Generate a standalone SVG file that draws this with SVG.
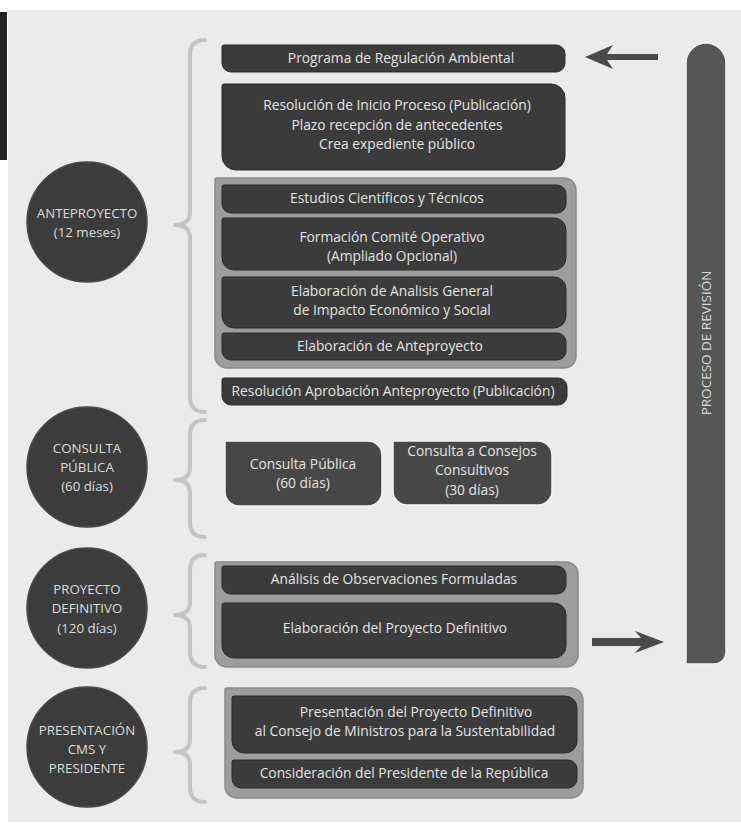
<svg xmlns="http://www.w3.org/2000/svg" width="741" height="831" viewBox="0 0 741 831">
<style>
.bx{fill:#3b3b3b;stroke:#2a2a2a;stroke-width:1}
.cb{fill:#474747;stroke:#f4f4f4;stroke-width:1.5}
.ct{fill:#9d9d9d;stroke:#8a8a8a;stroke-width:1.5}
.ci{fill:#3c3c3c;stroke:#4a4a4a;stroke-width:1.5}
.t{font-family:"Open Sans","Noto Sans",sans-serif;font-size:13.8px;fill:#e4e4e4;text-anchor:middle}
.tc{font-family:"Open Sans","Noto Sans",sans-serif;font-size:13.3px;fill:#dcdcdc;text-anchor:middle}
.br{fill:none;stroke:#c4c4c4;stroke-width:4;stroke-linecap:round;stroke-linejoin:round}
.ar{fill:#4a4a4a}
</style>
<rect x="0" y="0" width="741" height="831" fill="#ffffff"/>
<rect x="8" y="10" width="733" height="812" fill="#ebebeb"/>
<rect x="0" y="12" width="7" height="148" fill="#222222"/>

<g id="connectors">
<path class="br" d="M205,40 C195,40 190,45 190,55 L190,212 C190,221 185,225 175,225 C185,225 190,229 190,238 L190,397 C190,407 195,412 205,412"/>
<path class="br" d="M205,420 C195,420 190,425 190,435 L190,467 C190,476 185,480 175,480 C185,480 190,484 190,493 L190,522 C190,532 195,537 205,537"/>
<path class="br" d="M205,555 C195,555 190,560 190,570 L190,602 C190,611 185,615 175,615 C185,615 190,619 190,628 L190,652 C190,662 195,667 205,667"/>
<path class="br" d="M205,688 C195,688 190,693 190,703 L190,739 C190,748 185,752 175,752 C185,752 190,756 190,765 L190,787 C190,797 195,802 205,802"/>
<polygon class="ar" points="585,57 613,45 607,54 658,54 658,60 607,60 613,69"/>
<polygon class="ar" points="664,642 635,631 641,638 592,638 592,646 641,646 635,653"/>
</g>

<g id="c-anteproyecto">
<circle class="ci" cx="87" cy="222" r="60"/>
<text class="tc" x="87" y="218">ANTEPROYECTO</text>
<text class="tc" x="87" y="237">(12 meses)</text>
</g>
<g id="c-consulta">
<circle class="ci" cx="87" cy="467" r="60"/>
<text class="tc" x="87" y="453">CONSULTA</text>
<text class="tc" x="87" y="472">PÚBLICA</text>
<text class="tc" x="87" y="491">(60 días)</text>
</g>
<g id="c-proyecto">
<circle class="ci" cx="87" cy="608" r="60"/>
<text class="tc" x="87" y="594">PROYECTO</text>
<text class="tc" x="87" y="613">DEFINITIVO</text>
<text class="tc" x="87" y="633">(120 días)</text>
</g>
<g id="c-presentacion">
<circle class="ci" cx="87" cy="747" r="60"/>
<text class="tc" x="87" y="735">PRESENTACIÓN</text>
<text class="tc" x="87" y="754">CMS Y</text>
<text class="tc" x="87" y="773">PRESIDENTE</text>
</g>

<g id="n-programa">
<path class="bx" d="M224,45 H556 A9,9 0 0 1 565,54 V63 A9,9 0 0 1 556,72 H231 A9,9 0 0 1 222,63 V47 A2,2 0 0 1 224,45 Z"/>
<text class="t" x="401" y="63">Programa de Regulación Ambiental</text>
</g>
<g id="n-resolucion-inicio">
<path class="bx" d="M224,84 H551 A14,14 0 0 1 565,98 V156 A14,14 0 0 1 551,170 H236 A14,14 0 0 1 222,156 V86 A2,2 0 0 1 224,84 Z"/>
<text class="t" x="397" y="110">Resolución de Inicio Proceso (Publicación)</text>
<text class="t" x="397" y="130">Plazo recepción de antecedentes</text>
<text class="t" x="397" y="149">Crea expediente público</text>
</g>
<g id="n-grupo-anteproyecto">
<path class="ct" d="M217,178 H564 A12,12 0 0 1 576,190 V356 A12,12 0 0 1 564,368 H227 A12,12 0 0 1 215,356 V180 A2,2 0 0 1 217,178 Z"/>
</g>
<g id="n-estudios">
<path class="bx" d="M224,185 H557 A9,9 0 0 1 566,194 V204 A9,9 0 0 1 557,213 H231 A9,9 0 0 1 222,204 V187 A2,2 0 0 1 224,185 Z"/>
<text class="t" x="387" y="203">Estudios Científicos y Técnicos</text>
</g>
<g id="n-comite">
<path class="bx" d="M224,218 H554 A12,12 0 0 1 566,230 V258 A12,12 0 0 1 554,270 H234 A12,12 0 0 1 222,258 V220 A2,2 0 0 1 224,218 Z"/>
<text class="t" x="392" y="242">Formación Comité Operativo</text>
<text class="t" x="392" y="261">(Ampliado Opcional)</text>
</g>
<g id="n-analisis">
<path class="bx" d="M224,277 H554 A12,12 0 0 1 566,289 V316 A12,12 0 0 1 554,328 H234 A12,12 0 0 1 222,316 V279 A2,2 0 0 1 224,277 Z"/>
<text class="t" x="392" y="296">Elaboración de Analisis General</text>
<text class="t" x="392" y="315">de Impacto Económico y Social</text>
</g>
<g id="n-elab-anteproyecto">
<path class="bx" d="M224,333 H557 A9,9 0 0 1 566,342 V351 A9,9 0 0 1 557,360 H231 A9,9 0 0 1 222,351 V335 A2,2 0 0 1 224,333 Z"/>
<text class="t" x="390" y="351">Elaboración de Anteproyecto</text>
</g>
<g id="n-resolucion-aprobacion">
<path class="bx" d="M224,378 H558 A9,9 0 0 1 567,387 V396 A9,9 0 0 1 558,405 H231 A9,9 0 0 1 222,396 V380 A2,2 0 0 1 224,378 Z"/>
<text class="t" x="393" y="396">Resolución Aprobación Anteproyecto (Publicación)</text>
</g>
<g id="n-consulta-publica">
<path class="cb" d="M227,441 H368 A14,14 0 0 1 382,455 V492 A14,14 0 0 1 368,506 H239 A14,14 0 0 1 225,492 V443 A2,2 0 0 1 227,441 Z"/>
<text class="t" x="303" y="469">Consulta Pública</text>
<text class="t" x="303" y="488">(60 días)</text>
</g>
<g id="n-consulta-consejos">
<path class="cb" d="M395,441 H538 A14,14 0 0 1 552,455 V491 A14,14 0 0 1 538,505 H407 A14,14 0 0 1 393,491 V443 A2,2 0 0 1 395,441 Z"/>
<text class="t" x="472" y="456">Consulta a Consejos</text>
<text class="t" x="472" y="475">Consultivos</text>
<text class="t" x="472" y="495">(30 días)</text>
</g>
<g id="n-grupo-proyecto">
<path class="ct" d="M217,562 H566 A12,12 0 0 1 578,574 V655 A12,12 0 0 1 566,667 H227 A12,12 0 0 1 215,655 V564 A2,2 0 0 1 217,562 Z"/>
</g>
<g id="n-observaciones">
<path class="bx" d="M224,566 H557 A9,9 0 0 1 566,575 V585 A9,9 0 0 1 557,594 H231 A9,9 0 0 1 222,585 V568 A2,2 0 0 1 224,566 Z"/>
<text class="t" x="394" y="584">Análisis de Observaciones Formuladas</text>
</g>
<g id="n-elab-proyecto">
<path class="bx" d="M224,603 H554 A12,12 0 0 1 566,615 V646 A12,12 0 0 1 554,658 H234 A12,12 0 0 1 222,646 V605 A2,2 0 0 1 224,603 Z"/>
<text class="t" x="395" y="633">Elaboración del Proyecto Definitivo</text>
</g>
<g id="n-grupo-presentacion">
<path class="ct" d="M227,688 H571 A12,12 0 0 1 583,700 V786 A12,12 0 0 1 571,798 H237 A12,12 0 0 1 225,786 V690 A2,2 0 0 1 227,688 Z"/>
</g>
<g id="n-presentacion">
<path class="bx" d="M234,696 H565 A12,12 0 0 1 577,708 V741 A12,12 0 0 1 565,753 H244 A12,12 0 0 1 232,741 V698 A2,2 0 0 1 234,696 Z"/>
<text class="t" x="416" y="717">Presentación del Proyecto Definitivo</text>
<text class="t" x="405" y="736">al Consejo de Ministros para la Sustentabilidad</text>
</g>
<g id="n-consideracion">
<path class="bx" d="M234,760 H568 A9,9 0 0 1 577,769 V779 A9,9 0 0 1 568,788 H241 A9,9 0 0 1 232,779 V762 A2,2 0 0 1 234,760 Z"/>
<text class="t" x="404" y="778">Consideración del Presidente de la República</text>
</g>
<g id="n-revision">
<path d="M686,664 V63 A20,20 0 0 1 726,63 V652 A12,12 0 0 1 714,664 Z" fill="#565656" stroke="#f2f2f2" stroke-width="1.5"/>
<text class="t" x="0" y="0" transform="translate(711,343) rotate(-90)" style="font-size:13.5px;fill:#d8d8d8">PROCESO DE REVISIÓN</text>
</g>
</svg>
